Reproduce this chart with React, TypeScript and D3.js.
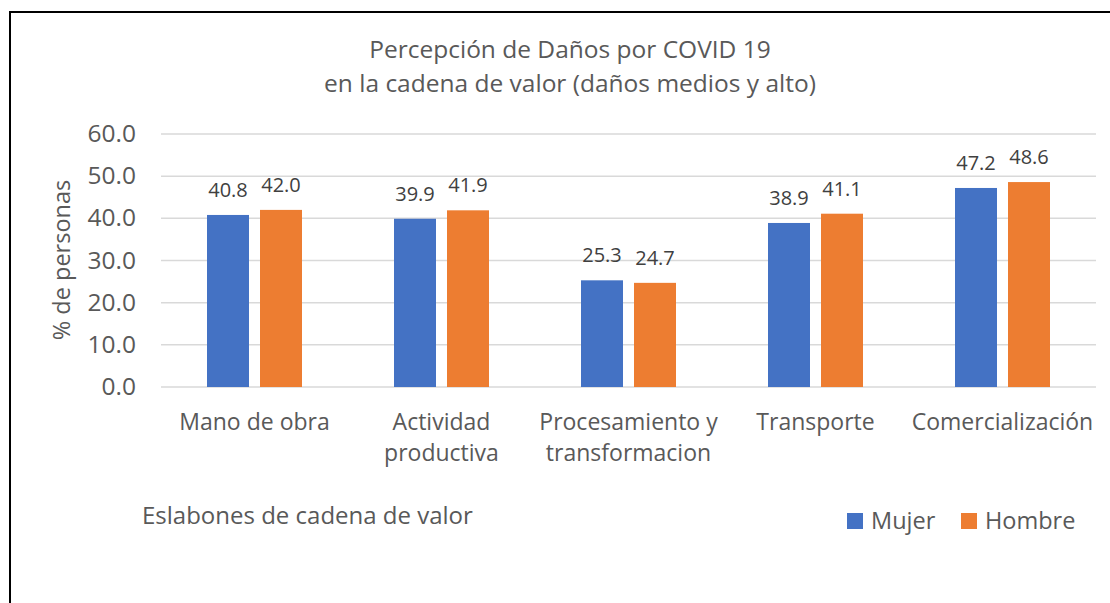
import React from "react";
import * as d3 from "d3";

const categories = [
  ["Mano de obra"],
  ["Actividad", "productiva"],
  ["Procesamiento y", "transformacion"],
  ["Transporte"],
  ["Comercialización"],
];
const categoryKeys = ["Mano de obra", "Actividad productiva", "Procesamiento y transformacion", "Transporte", "Comercialización"];
const seriesNames = ["Mujer", "Hombre"];
const mujer = [40.8, 39.9, 25.3, 38.9, 47.2];
const hombre = [42.0, 41.9, 24.7, 41.1, 48.6];
const yTicks = [0, 10, 20, 30, 40, 50, 60];
const colors = ["#4472C4", "#ED7D31"];

const W = 1110;
const H = 603;
const FONT = "'Open Sans', sans-serif";
const TEXT = "#595959";

export default function App() {
  const x0 = d3.scaleBand<string>().domain(categoryKeys).range([161, 1096]).padding(0);
  const y = d3.scaleLinear().domain([0, 60]).range([387, 134]);
  const values = [mujer, hombre];

  return (
    <svg width={W} height={H} style={{ position: "fixed", left: 0, top: 0, background: "#fff" }} fontFamily={FONT}>
      <rect x={0} y={0} width={W} height={H} fill="#fff" />
      <rect x={10} y={12} width={1300} height={1000} fill="none" stroke="#000" strokeWidth={2} />
      <text x={570} y={58} textAnchor="middle" fontSize={24.5} fill={TEXT}>Percepción de Daños por COVID 19</text>
      <text x={570} y={92} textAnchor="middle" fontSize={24.5} fill={TEXT}>en la cadena de valor (daños medios y alto)</text>

      {yTicks.map((t) => (
        <g key={t}>
          <line x1={161} x2={1096} y1={y(t)} y2={y(t)} stroke="#D9D9D9" strokeWidth={1.5} />
          <text x={136} y={y(t) + 8} textAnchor="end" fontSize={24.5} fill={TEXT}>{d3.format(".1f")(t)}</text>
        </g>
      ))}

      <text transform={`translate(70,260) rotate(-90)`} textAnchor="middle" fontSize={23.5} fill={TEXT}>% de personas</text>

      {categoryKeys.map((c, i) => {
        const cx = (x0(c) as number) + x0.bandwidth() / 2;
        const x1 = d3.scaleBand<string>().domain(seriesNames).range([cx - 47.5, cx + 47.5]).paddingInner(11 / 53);
        return (
          <g key={c}>
            {seriesNames.map((s, j) => {
              const v = values[j][i];
              const bx = x1(s) as number;
              return (
                <g key={s}>
                  <rect x={bx} y={y(v)} width={x1.bandwidth()} height={y(0) - y(v)} fill={colors[j]} />
                  <text x={bx + x1.bandwidth() / 2} y={y(v) - 18} textAnchor="middle" fontSize={20} fill="#404040">{d3.format(".1f")(v)}</text>
                </g>
              );
            })}
            {categories[i].map((line, k) => (
              <text key={k} x={cx} y={430 + k * 31} textAnchor="middle" fontSize={23} fill={TEXT}>{line}</text>
            ))}
          </g>
        );
      })}

      <text x={142} y={524} fontSize={24} fill={TEXT}>Eslabones de cadena de valor</text>

      {seriesNames.map((s, j) => {
        const lx = [847, 961][j];
        return (
          <g key={s}>
            <rect x={lx} y={513} width={16} height={16} fill={colors[j]} />
            <text x={lx + 24} y={529} fontSize={23.5} fill={TEXT}>{s}</text>
          </g>
        );
      })}
    </svg>
  );
}
